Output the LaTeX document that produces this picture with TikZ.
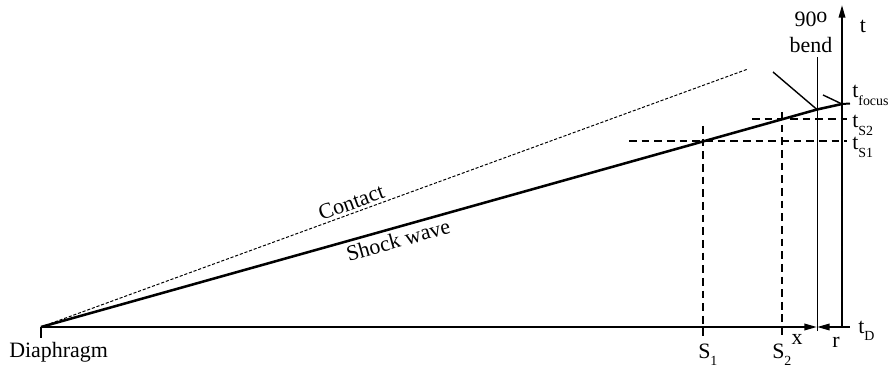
\documentclass[tikz,border=0pt]{standalone}
\usepackage{fontspec}
\setmainfont{Liberation Serif}
\usetikzlibrary{arrows.meta}

\newcommand{\lowsub}[1]{\raisebox{-5pt}{\fontsize{9.9pt}{10pt}\selectfont #1}}

\tikzset{
    axis/.style={line width=1.4pt},
    shock/.style={line width=1.8pt},
    guide/.style={line width=1pt, dash pattern=on 5.5pt off 3.5pt},
    contact/.style={line width=0.7pt, dash pattern=on 2.2pt off 1.3pt},
    thinline/.style={line width=0.6pt},
    lbl/.style={font=\fontsize{15.6pt}{18pt}\selectfont, inner sep=0pt},
    tip/.style={-{Triangle[length=9pt,width=4.6pt]}}
}

\begin{document}
\begin{tikzpicture}[x=0.025cm, y=-0.025cm]
    \useasboundingbox (0,0) rectangle (888,367);

    % Key points
    \coordinate (O) at (41,327);
    \coordinate (X) at (817,327);
    \coordinate (T0) at (842,327);
    \coordinate (T1) at (842,5);
    \coordinate (B) at (817,109.5);
    \coordinate (F) at (842,104);
    \coordinate (C) at (748,69);
    \coordinate (P1) at (703,141);
    \coordinate (P2) at (782,119);
    \coordinate (Btop) at (817,57);
    \coordinate (Bbot) at (817,331);

    % Axes
    \draw[axis, tip] (O) -- (X);
    \draw[axis, tip] (T0) -- (X);
    \draw[axis] (T0) -- ++(8,0);
    \draw[axis, tip] (T0) -- (T1);
    \draw[axis] (O) -- ++(0,11);

    % 90 degree bend
    \draw[thinline] (Bbot) -- (Btop);

    % Contact and shock wave
    \draw[contact] (O) -- node[lbl, sloped, pos=0.444, anchor=south, inner sep=2pt] (contactlbl) {Contact} (C);
    \draw[shock] (O) -- node[lbl, sloped, pos=0.456, anchor=north, inner sep=2.5pt] (shocklbl) {Shock wave} (B) -- (F);
    \draw[axis] (F) -- ++(8,-0.5);

    % Reflected waves
    \draw[line width=1pt] (773,72) -- (B);
    \draw[line width=1pt] (823,95) -- (F);

    % Sample stations
    \draw[guide] (P1) ++(-74,0) -- ++(218,0);
    \draw[guide] (P1) ++(0,-15) -- ++(0,211);
    \draw[guide] (P2) ++(-30,0) -- ++(95,0);
    \draw[guide] (P2) ++(0,-7) -- ++(0,226);

    % Labels
    \node[lbl, anchor=base] (tlbl) at (863,33) {t};
    \node[lbl, anchor=base] (bendlbl1) at (811,27) {90\raisebox{0.2em}{o}};
    \node[lbl, anchor=base] (bendlbl2) at (811,53) {bend};
    \node[lbl, anchor=base west] (tfocus) at (852,98) {t\lowsub{focus}};
    \node[lbl, anchor=base west] (ts2) at (852,128) {t\lowsub{S2}};
    \node[lbl, anchor=base west] (ts1) at (852,150) {t\lowsub{S1}};
    \node[lbl, anchor=base west] (td) at (858,333) {t\lowsub{D}};
    \node[lbl, anchor=base] (xlbl) at (797,344) {x};
    \node[lbl, anchor=base] (rlbl) at (836,347) {r};
    \node[lbl, anchor=base west] (s1lbl) at (698,358) {S\lowsub{1}};
    \node[lbl, anchor=base west] (s2lbl) at (772,358) {S\lowsub{2}};
    \node[lbl, anchor=base west] (diaph) at (9,357) {Diaphragm};
\end{tikzpicture}
\end{document}
